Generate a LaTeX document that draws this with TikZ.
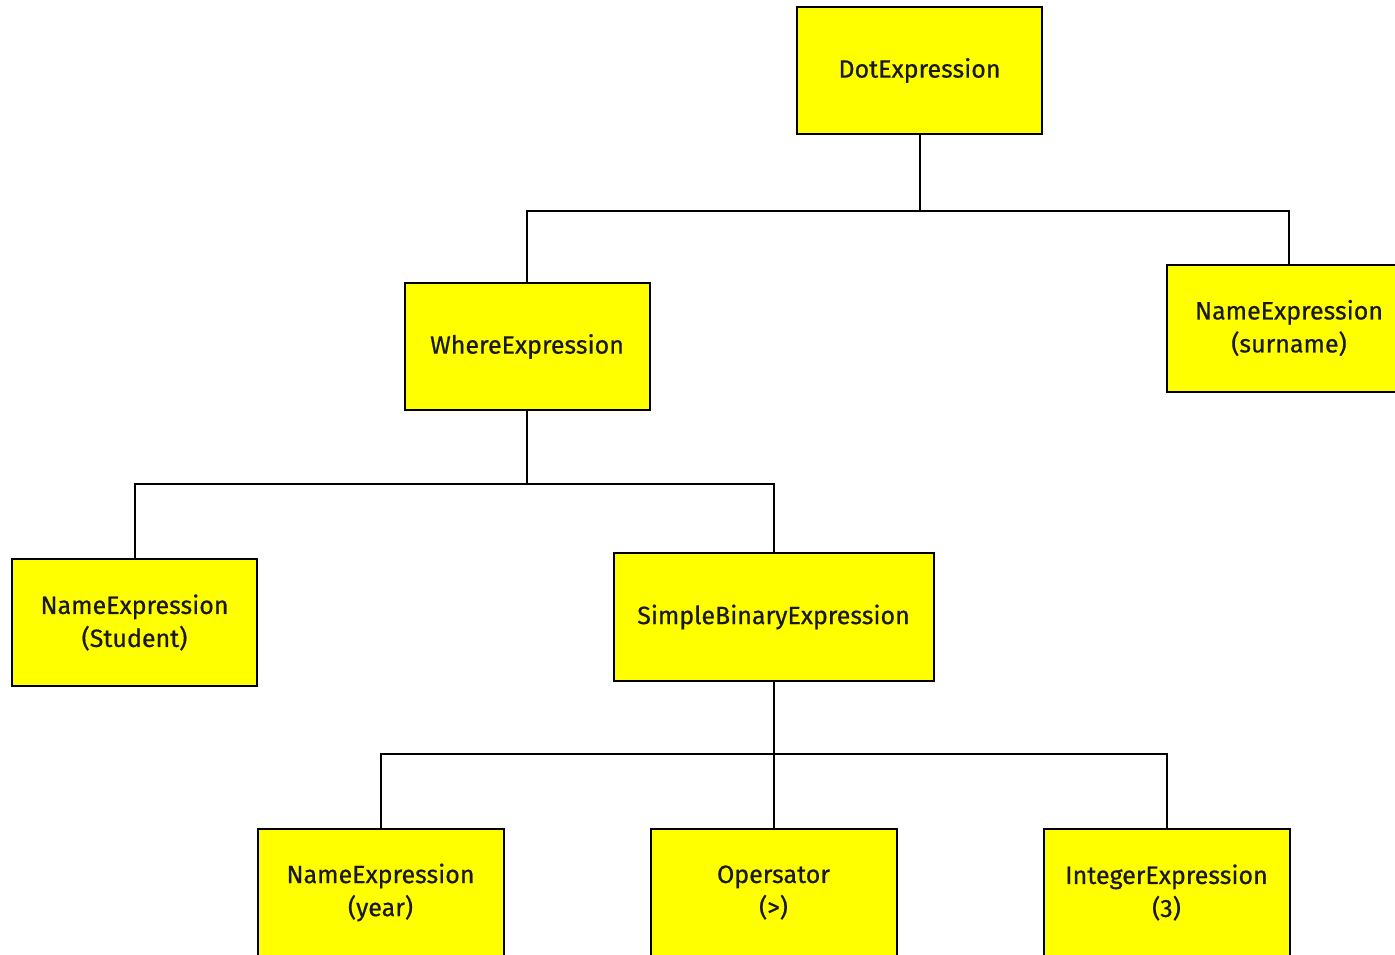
\documentclass[tikz,border=0pt]{standalone}
\usepackage{fontspec}
\setmainfont{Fira Sans}[AutoFakeBold=0.6]
\definecolor{boxyellow}{RGB}{255,255,0}
\begin{document}
\begin{tikzpicture}[x=1pt,y=-1pt,
  astnode/.style={draw=black, line width=2pt, fill=boxyellow, minimum width=245pt,
    minimum height=127pt, inner sep=0pt, align=center, text=black!90,
    font=\fontsize{25}{33}\selectfont\bfseries},
  link/.style={draw=black, line width=2pt}]
\useasboundingbox (0,0) rectangle (1395,954);
\clip (0,0) rectangle (1395,954);
% syntax tree nodes
\node[astnode] (dot) at (919.5,70.5) {DotExpression};
\node[astnode] (where) at (527,346.5) {WhereExpression};
\node[astnode] (surname) at (1289,328) {NameExpression\\(surname)};
\node[astnode] (student) at (134.5,622.5) {NameExpression\\(Student)};
\node[astnode, minimum width=320pt, minimum height=128pt] (sbe) at (773.5,617) {SimpleBinaryExpression};
\node[astnode, minimum width=246pt] (year) at (380.5,892.5) {NameExpression\\(year)};
\node[astnode, minimum width=246pt] (oper) at (773.5,892.5) {Opersator\\(>)};
\node[astnode, minimum width=246pt] (int) at (1166.5,892.5) {IntegerExpression\\(3)};
% tree connectors
\draw[link] (dot.south) -- ++(0,76) coordinate (j1);
\draw[link] (j1) -| (where.north);
\draw[link] (j1) -| (surname.north);
\draw[link] (where.south) -- ++(0,73) coordinate (j2);
\draw[link] (j2) -| (student.north);
\draw[link] (j2) -| (sbe.north);
\draw[link] (sbe.south) -- ++(0,72) coordinate (j3);
\draw[link] (j3) -| (year.north);
\draw[link] (j3) -- (oper.north);
\draw[link] (j3) -| (int.north);
\end{tikzpicture}
\end{document}
